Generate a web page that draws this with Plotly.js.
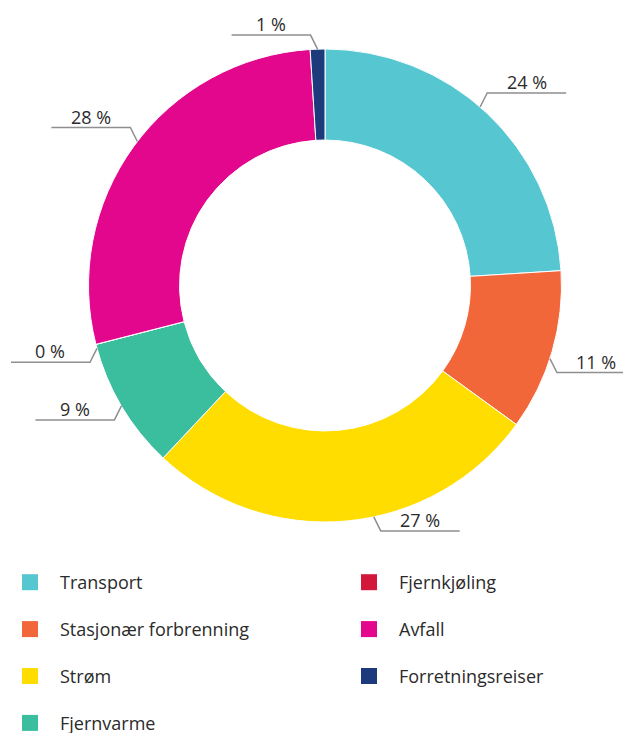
<!DOCTYPE html>
<html>
<head>
<meta charset="utf-8">
<script src="https://cdn.plot.ly/plotly-3.0.1.min.js"></script>
<style>html,body{margin:0;padding:0;background:#fff;}#chart{width:623px;height:733px;}</style>
</head>
<body>
<div id="chart"></div>
<script>
// ---- data ----
const categories = ["Transport", "Stasjonær forbrenning", "Strøm", "Fjernvarme", "Fjernkjøling", "Avfall", "Forretningsreiser"];
const shares = [24, 11, 27, 9, 0, 28, 1];
const colors = ["#56C6D1", "#F2673A", "#FFDD00", "#3BBE9D", "#D2173A", "#E2078C", "#1D3A7C"];
const legendCol1 = ["Transport", "Stasjonær forbrenning", "Strøm", "Fjernvarme"];
const legendCol2 = ["Fjernkjøling", "Avfall", "Forretningsreiser"];

// ---- layout config ----
const W = 623, H = 733;
const cx = 325, cy = 285.5, R = 236.5;
const FONT = "'Open Sans', Lato, sans-serif";
const TEXT_COLOR = "#2b2b2b";
const LINE_COLOR = "#8f8f8f";
const attachNudgeDeg = { "Transport": -2.2, "Stasjonær forbrenning": 1.8, "Strøm": -6.5, "Fjernkjøling": -1.0, "Avfall": 1.5 };

const px = x => x / W;
const py = y => 1 - y / H;

const traces = [{
  type: "pie",
  labels: categories,
  values: shares,
  sort: false,
  direction: "clockwise",
  rotation: 0,
  hole: 0.615,
  textinfo: "none",
  hoverinfo: "label+percent",
  showlegend: false,
  marker: { colors: colors, line: { color: "#ffffff", width: 1 } },
  domain: { x: [px(cx - R), px(cx + R)], y: [py(cy + R), py(cy - R)] }
}];

function addLegendTrace(name, legendId) {
  const i = categories.indexOf(name);
  traces.push({
    type: "scatter", mode: "markers", x: [null], y: [null], name: name,
    legend: legendId, legendgroup: name,
    marker: { symbol: "square", size: 16, color: colors[i], line: { width: 0 } },
    hoverinfo: "skip"
  });
}
legendCol1.forEach(n => addLegendTrace(n, "legend"));
legendCol2.forEach(n => addLegendTrace(n, "legend2"));

// leader lines + labels computed from the data
const total = shares.reduce((a, b) => a + b, 0);
const shapes = [], annotations = [];
let cum = 0;
categories.forEach((name, i) => {
  const mid = cum + shares[i] / 2;
  cum += shares[i];
  let ang = mid / total * 360 + (attachNudgeDeg[name] || 0);
  const t = ang * Math.PI / 180;
  const sx = Math.sin(t) >= 0 ? 1 : -1;
  const sy = Math.cos(t) >= 0 ? -1 : 1;
  const x0 = cx + R * Math.sin(t), y0 = cy - R * Math.cos(t);
  const x1 = x0 + sx * 7, y1 = y0 + sy * 14;
  const x2 = x1 + sx * 79;
  shapes.push({
    type: "path", xref: "paper", yref: "paper",
    path: `M ${px(x0)} ${py(y0)} L ${px(x1)} ${py(y1)} L ${px(x2)} ${py(y1)}`,
    line: { color: LINE_COLOR, width: 1.5 }
  });
  annotations.push({
    xref: "paper", yref: "paper", x: px((x1 + x2) / 2), y: py(y1),
    xanchor: "center", yanchor: "bottom", yshift: -3,
    text: Math.round(shares[i] / total * 100) + " %", showarrow: false,
    font: { family: FONT, size: 18, color: TEXT_COLOR }
  });
});

const legendBase = {
  orientation: "v", xanchor: "left", yanchor: "top",
  bgcolor: "rgba(0,0,0,0)", borderwidth: 0,
  itemwidth: 50, tracegroupgap: 20.5, itemclick: false, itemdoubleclick: false,
  font: { family: FONT, size: 18, color: TEXT_COLOR }
};

const layout = {
  width: W, height: H,
  margin: { l: 0, r: 0, t: 0, b: 0, autoexpand: false },
  paper_bgcolor: "#ffffff", plot_bgcolor: "#ffffff",
  font: { family: FONT, color: TEXT_COLOR },
  showlegend: true,
  xaxis: { visible: false, domain: [0, 0.01] },
  yaxis: { visible: false, domain: [0, 0.01] },
  legend: Object.assign({}, legendBase, { x: 0, y: py(564) }),
  legend2: Object.assign({}, legendBase, { x: px(339), y: py(564) }),
  shapes: shapes,
  annotations: annotations
};

Plotly.newPlot("chart", traces, layout, { displayModeBar: false, staticPlot: true });
</script>
</body>
</html>
